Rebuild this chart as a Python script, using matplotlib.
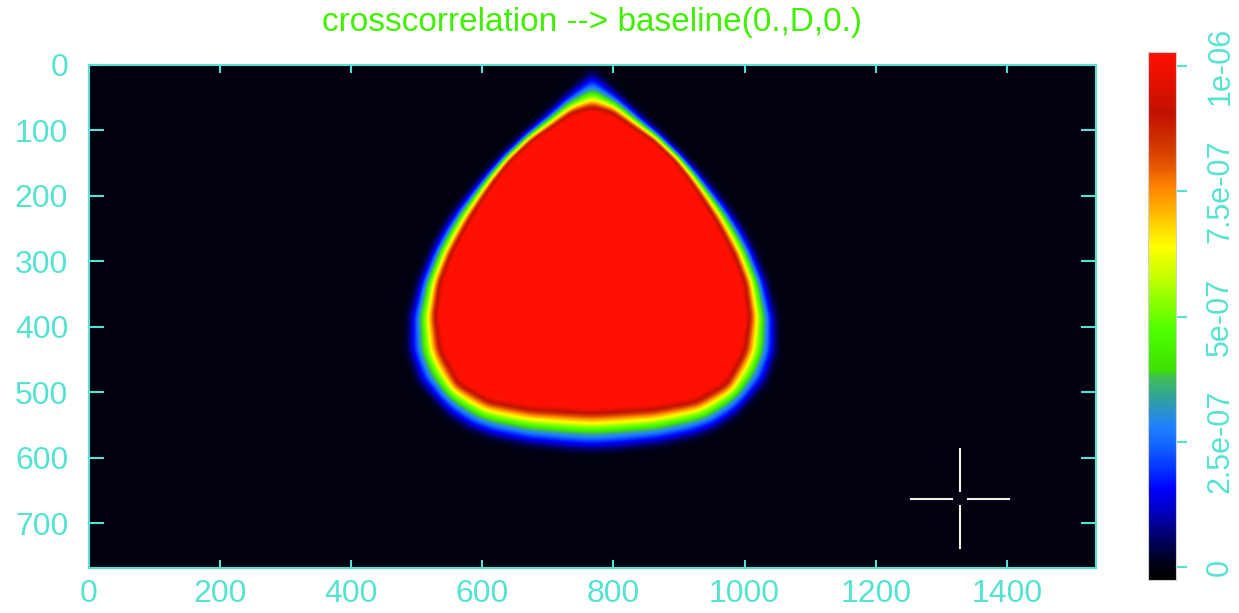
import numpy as np
import matplotlib
matplotlib.use('Agg')
import matplotlib.pyplot as plt
from matplotlib.colors import LinearSegmentedColormap, Normalize
from matplotlib.path import Path

# image extent (pixels of the map) and symmetry axis of the pattern
nx, ny = 1536, 768
x0 = 768

# outer edge of the pattern (where it fades to black): row -> half width
outer_y = [3, 69, 145, 165, 200, 221, 250, 282, 333, 384, 435, 485, 537, 557, 572, 583, 590, 592]
outer_hw = [0, 66, 142, 162, 193, 210, 230, 247, 268, 282, 284, 268, 221, 191, 152, 99, 38, 0]
# inner edge (where the value reaches 1e-06, red plateau)
inner_y = [67, 73, 84, 95, 114, 145, 175, 195, 236, 290, 333, 384, 435, 485, 511, 523, 528]
inner_hw = [0, 30, 47, 64, 95, 128, 150, 163, 188, 216, 232, 238, 230, 203, 157, 92, 0]

# value across the rim (0 = outer edge, 1 = inner edge), units of 1e-6
prof_s = [0.0, 0.1, 0.2, 0.35, 0.5, 0.65, 0.75, 0.85, 0.95, 1.0, 1.3]
prof_v = [0.0, 0.06, 0.15, 0.26, 0.40, 0.58, 0.70, 0.80, 0.92, 1.0, 1.10]

# colour table of the scale (values in 1e-6)
cmap_vals = [-0.026, 0.0, 0.054, 0.10, 0.155, 0.18, 0.237, 0.28, 0.334, 0.38, 0.394,
             0.468, 0.534, 0.574, 0.64, 0.70, 0.763, 0.807, 0.853, 0.907, 0.96, 1.028]
cmap_cols = ['#000000', '#000010', '#000060', '#0000b0', '#0000ff', '#0020ff',
             '#1060ff', '#2080ff', '#30a0a0', '#40c050', '#3ee000', '#4cff00',
             '#90ff00', '#c0ff00', '#ffff00', '#ffc000', '#ff8000', '#e05000',
             '#d03000', '#c01000', '#e01000', '#ff1000']

cbar_ticks = [0, 2.5e-7, 5e-7, 7.5e-7, 1e-6]
cbar_labels = ['0', '2.5e-07', '5e-07', '7.5e-07', '1e-06']

cyan = '#55e3d1'
plt.rcParams['font.family'] = ['Liberation Sans', 'DejaVu Sans']


def outline(ys, hws):
    right = [(x0 + w, y) for y, w in zip(ys, hws)]
    left = [(x0 - w, y) for y, w in zip(ys[::-1], hws[::-1])][1:]
    return np.array(right + left)


def dist_inside(verts, px, py):
    d2 = np.full(px.shape, np.inf)
    for (ax_, ay_), (bx_, by_) in zip(verts[:-1], verts[1:]):
        ex, ey = bx_ - ax_, by_ - ay_
        L = ex * ex + ey * ey
        if L == 0:
            continue
        u = np.clip(((px - ax_) * ex + (py - ay_) * ey) / L, 0, 1)
        d2 = np.minimum(d2, (px - ax_ - u * ex) ** 2 + (py - ay_ - u * ey) ** 2)
    inside = Path(verts).contains_points(np.column_stack([px.ravel(), py.ravel()]))
    return np.sqrt(d2), inside.reshape(px.shape)


def blur(a, sigma):
    r = int(3 * sigma)
    k = np.exp(-0.5 * (np.arange(-r, r + 1) / sigma) ** 2)
    k /= k.sum()
    p = np.pad(a, r, mode='edge')
    rows = sum(k[i] * p[:, i:i + a.shape[1]] for i in range(2 * r + 1))
    return sum(k[i] * rows[i:i + a.shape[0], :] for i in range(2 * r + 1))


# build the map
X, Y = np.meshgrid(np.arange(nx) + 0.5, np.arange(ny) + 0.5)
d_out, in_out = dist_inside(outline(outer_y, outer_hw), X, Y)
d_in, in_in = dist_inside(outline(inner_y, inner_hw), X, Y)
s = np.where(in_out, d_out / (d_out + d_in + 1e-9), 0.0)
s = np.where(in_in, 1.0 + d_in / 40.0, s)
field = blur(np.interp(s, prof_s, prof_v), 6.0) * 1e-6

vmin, vmax = cmap_vals[0] * 1e-6, cmap_vals[-1] * 1e-6
pos = [(v - cmap_vals[0]) / (cmap_vals[-1] - cmap_vals[0]) for v in cmap_vals]
cmap = LinearSegmentedColormap.from_list('xc', list(zip(pos, cmap_cols)), N=512)
norm = Normalize(vmin=vmin, vmax=vmax)

fig = plt.figure(figsize=(12.39, 6.13), dpi=100)
ax = fig.add_axes([89 / 1239, (613 - 568) / 613, 1007 / 1239, 503 / 613])
im = ax.imshow(field, cmap=cmap, norm=norm, extent=[0, nx, ny, 0],
               aspect='auto', interpolation='bilinear')
ax.set_xlim(0, nx)
ax.set_ylim(ny, 0)

# cross marker
mx, my, gap, arm = 1329, 662, 12, 75
for k in (-1, 1):
    ax.plot([mx + k * gap, mx + k * arm], [my, my], color='#f2f2e6', lw=1.5)
    ax.plot([mx, mx], [my + k * gap, my + k * arm], color='#f2f2e6', lw=1.5)

ax.set_xticks(range(0, 1401, 200))
ax.set_yticks(range(0, 701, 100))
ax.tick_params(colors=cyan, direction='in', top=True, right=True,
               labelsize=23, width=1.5)
ax.tick_params(axis='x', length=6, pad=8)
ax.tick_params(axis='y', length=11, pad=15)
for sp in ax.spines.values():
    sp.set_color(cyan)
    sp.set_linewidth(1.5)

fig.text(592 / 1239, 1 - 22 / 613, 'crosscorrelation --> baseline(0.,D,0.)',
         color='#40f000', fontsize=24, ha='center', va='center')

cax = fig.add_axes([1148 / 1239, (613 - 580) / 613, 28 / 1239, 528 / 613])
cb = fig.colorbar(im, cax=cax)
cb.set_ticks(cbar_ticks)
cb.set_ticklabels(cbar_labels)
cb.outline.set_edgecolor('#d0d0d0')
cb.outline.set_linewidth(0.8)
cax.tick_params(colors=cyan, length=8, width=1.5, labelsize=22, pad=13)
for lab in cax.get_yticklabels():
    lab.set_rotation(90)
    lab.set_va('center')

fig.savefig('out.png', dpi=100)
